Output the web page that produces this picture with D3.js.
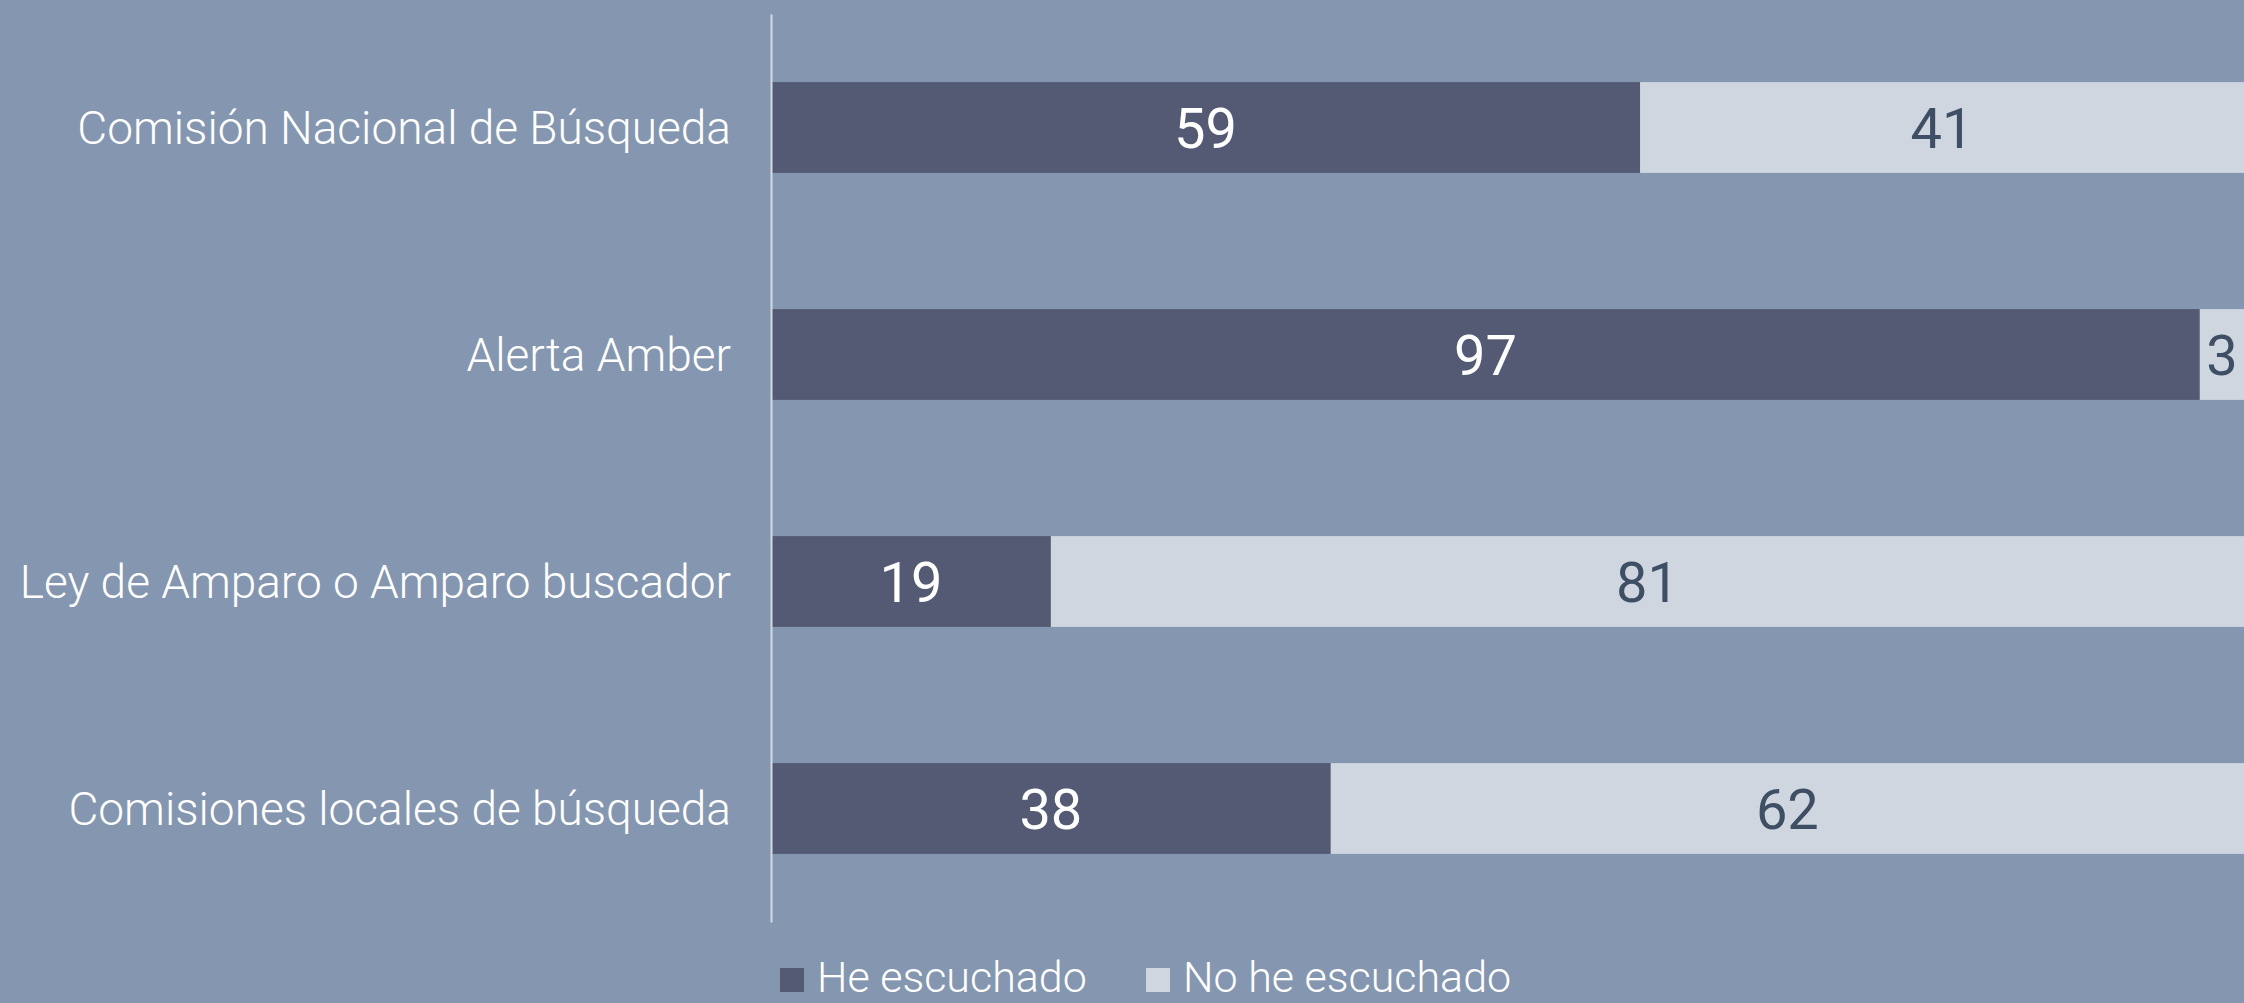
<!DOCTYPE html>
<html lang="es">
<head>
<meta charset="UTF-8">
<title>Conocimiento de mecanismos de búsqueda</title>
<style>
    body {
        margin: 0;
        padding: 0;
        background-color: #8597b0;
        overflow: hidden;
    }
    #chart svg {
        display: block;
    }
    .label {
        font-family: Roboto, "Noto Sans", sans-serif;
        font-weight: 300;
        fill: #ffffff;
    }
    .value {
        font-family: Roboto, "Noto Sans", sans-serif;
        font-weight: 400;
    }
</style>
</head>
<body>
<div id="chart"></div>

<script src="https://d3js.org/d3.v7.min.js"></script>
<script>
    // Data
    const categories = [
        "Comisión Nacional de Búsqueda",
        "Alerta Amber",
        "Ley de Amparo o Amparo buscador",
        "Comisiones locales de búsqueda"
    ];
    const heard = [59, 97, 19, 38];
    const notHeard = [41, 3, 81, 62];
    const seriesNames = ["He escuchado", "No he escuchado"];
    const seriesColors = ["#545974", "#cfd6df"];
    const valueColors = ["#ffffff", "#3e4e64"];

    const width = 2244,
          height = 1003;
    const margin = { top: 14, right: 0, bottom: 81, left: 771 };

    const svg = d3.select("#chart").append("svg")
        .attr("width", width)
        .attr("height", height);

    svg.append("rect")
        .attr("width", width)
        .attr("height", height)
        .attr("fill", "#8597b0");

    const x = d3.scaleLinear()
        .domain([0, 100])
        .range([margin.left, width - margin.right]);

    const y = d3.scaleBand()
        .domain(categories)
        .range([margin.top, height - margin.bottom])
        .paddingInner(0.6)
        .paddingOuter(0.3);

    // Stack the two series
    const rows = categories.map((c, i) => ({ cat: c, heard: heard[i], notHeard: notHeard[i] }));
    const stack = d3.stack().keys(["heard", "notHeard"]);
    const series = stack(rows);

    const groups = svg.append("g")
        .selectAll("g")
        .data(series)
        .enter().append("g")
        .attr("fill", (d, i) => seriesColors[i]);

    groups.selectAll("rect")
        .data(d => d)
        .enter().append("rect")
        .attr("x", d => x(d[0]))
        .attr("y", d => y(d.data.cat))
        .attr("width", d => x(d[1]) - x(d[0]))
        .attr("height", y.bandwidth());

    // Value labels
    series.forEach((s, i) => {
        svg.append("g")
            .selectAll("text")
            .data(s)
            .enter().append("text")
            .attr("class", "value")
            .attr("x", d => (x(d[0]) + x(d[1])) / 2)
            .attr("y", d => y(d.data.cat) + y.bandwidth() / 2)
            .attr("dy", "0.36em")
            .attr("text-anchor", "middle")
            .style("font-size", "56px")
            .attr("fill", valueColors[i])
            .text(d => d[1] - d[0]);
    });

    // Category axis
    const yAxis = svg.append("g")
        .attr("transform", `translate(${margin.left},0)`)
        .call(d3.axisLeft(y).tickSize(0).tickPadding(40));

    yAxis.select(".domain")
        .attr("stroke", "#d6dbe3")
        .attr("stroke-width", 2);

    yAxis.selectAll(".tick text")
        .attr("class", "label")
        .attr("fill", "#ffffff")
        .attr("dy", "0.36em")
        .style("font-size", "46px")
        .style("font-family", "Roboto, 'Noto Sans', sans-serif")
        .style("font-weight", 300);

    // Legend
    const legendX = [780, 1146];
    const legend = svg.append("g")
        .selectAll("g")
        .data(seriesNames)
        .enter().append("g")
        .attr("transform", (d, i) => `translate(${legendX[i]},968)`);

    legend.append("rect")
        .attr("width", 24)
        .attr("height", 24)
        .attr("fill", (d, i) => seriesColors[i]);

    legend.append("text")
        .attr("class", "label")
        .attr("x", 37)
        .attr("y", 24)
        .style("font-size", "43px")
        .text(d => d);
</script>
</body>
</html>
